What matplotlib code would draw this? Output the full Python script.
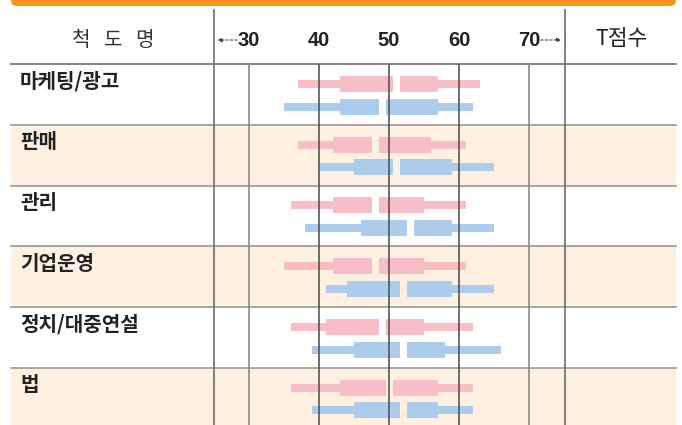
import numpy as np
import matplotlib.pyplot as plt
from matplotlib.patches import FancyBboxPatch, Rectangle
from matplotlib.transforms import blended_transform_factory

plt.rcParams['font.family'] = ['Noto Sans CJK KR', 'DejaVu Sans']

# scale names (rows)
scales = ['마케팅/광고', '판매', '관리', '기업운영', '정치/대중연설', '법']
ticks = [30, 40, 50, 60, 70]

# pink group: whisker low, box left, median, box right, whisker high
a_lo = [37, 37, 36, 35, 36, 36]
a_q1 = [43, 42, 42, 42, 41, 43]
a_med = [51, 48, 48, 48, 49, 50]
a_q3 = [57, 56, 55, 55, 55, 57]
a_hi = [63, 61, 61, 61, 62, 62]

# blue group
b_lo = [35, 40, 38, 41, 39, 39]
b_q1 = [43, 45, 46, 44, 45, 45]
b_med = [49, 51, 53, 52, 52, 52]
b_q3 = [57, 59, 59, 59, 58, 57]
b_hi = [62, 65, 65, 65, 66, 62]

PINK = '#f7bec7'
BLUE = '#abcceb'
SHADE = '#fdf0e0'
ORANGE = '#f7941d'

W, H = 682, 425
fig = plt.figure(figsize=(W / 100, H / 100), dpi=100)

# base axes in pixel coordinates for the table frame
ax = fig.add_axes([0, 0, 1, 1])
ax.set_xlim(0, W)
ax.set_ylim(H, 0)
ax.axis('off')

top = 64.3     # bottom of header row
row_h = 60.7   # row height
left_x, right_x = 11, 676
col1, col2 = 214, 565

# orange strip at the top
ax.add_patch(FancyBboxPatch((left_x, -10), right_x - left_x, 16,
                            boxstyle='round,pad=0,rounding_size=6',
                            fc=ORANGE, ec='none', zorder=3))

# shaded rows
for i in range(len(scales)):
    y0 = top + i * row_h
    if i % 2 == 1:
        ax.add_patch(Rectangle((left_x, y0), right_x - left_x, row_h,
                               fc=SHADE, ec='none', zorder=0))
    ax.plot([left_x, right_x], [y0, y0], color='#777777' if i == 0 else '#a0a0a0',
            lw=1.3, zorder=1)
    ax.text(20, y0 + 17, scales[i], fontsize=14.5, fontweight='bold',
            color='#222222', va='center', ha='left')

# header texts
ax.text(113, 40, '척   도   명', fontsize=14.5, color='#333333', ha='center', va='center',
        fontweight='light')
ax.text(622, 39, 'T점수', fontsize=15.5, color='#222222', ha='center', va='center')

# column separators
for cx in (col1, col2):
    ax.plot([cx, cx], [10, H], color='#777777', lw=1.3, zorder=4)

# data axes for the score bars
x0, x1 = 25, 25 + (col2 - col1) / 7.0
dx = fig.add_axes([col1 / W, 0, (col2 - col1) / W, (H - top) / H])
n_rows = (H - top) / row_h
dx.set_xlim(x0, x1)
dx.set_ylim(n_rows, 0)
dx.axis('off')
dx.patch.set_alpha(0)

for t in ticks:
    c = '#555555' if t in (40, 50, 60) else '#8a8a8a'
    dx.axvline(t, color=c, lw=1.2, zorder=3)

thick, thin = 16 / row_h, 8 / row_h
gap = 0.5


def draw_group(lo, q1, med, q3, hi, yoff, color):
    y = np.arange(len(lo)) + yoff
    lo, q1, med, q3, hi = map(np.array, (lo, q1, med, q3, hi))
    dx.barh(y, q1 - lo, left=lo, height=thin, color=color, zorder=2)
    dx.barh(y, hi - q3, left=q3, height=thin, color=color, zorder=2)
    dx.barh(y, (med - gap) - q1, left=q1, height=thick, color=color, zorder=2)
    dx.barh(y, q3 - (med + gap), left=med + gap, height=thick, color=color, zorder=2)


draw_group(a_lo, a_q1, a_med, a_q3, a_hi, 0.325, PINK)
draw_group(b_lo, b_q1, b_med, b_q3, b_hi, 0.70, BLUE)

# header tick numbers placed through the data scale
tr = blended_transform_factory(dx.transData, ax.transData)
for t in ticks:
    ax.text(t, 40, str(t), transform=tr, fontsize=14.5, fontweight='bold',
            family=['Liberation Sans', 'DejaVu Sans'], color='#222222',
            ha='center', va='center')

arrow = dict(arrowstyle='-|>', color='#444444', lw=0.8, linestyle=(0, (2, 2)),
             mutation_scale=6, shrinkA=0, shrinkB=0)
ax.annotate('', xy=(25.5, 40), xytext=(28.3, 40), xycoords=tr, textcoords=tr,
            arrowprops=arrow)
ax.annotate('', xy=(74.6, 40), xytext=(71.7, 40), xycoords=tr, textcoords=tr,
            arrowprops=arrow)

fig.savefig('out.png', dpi=100)
